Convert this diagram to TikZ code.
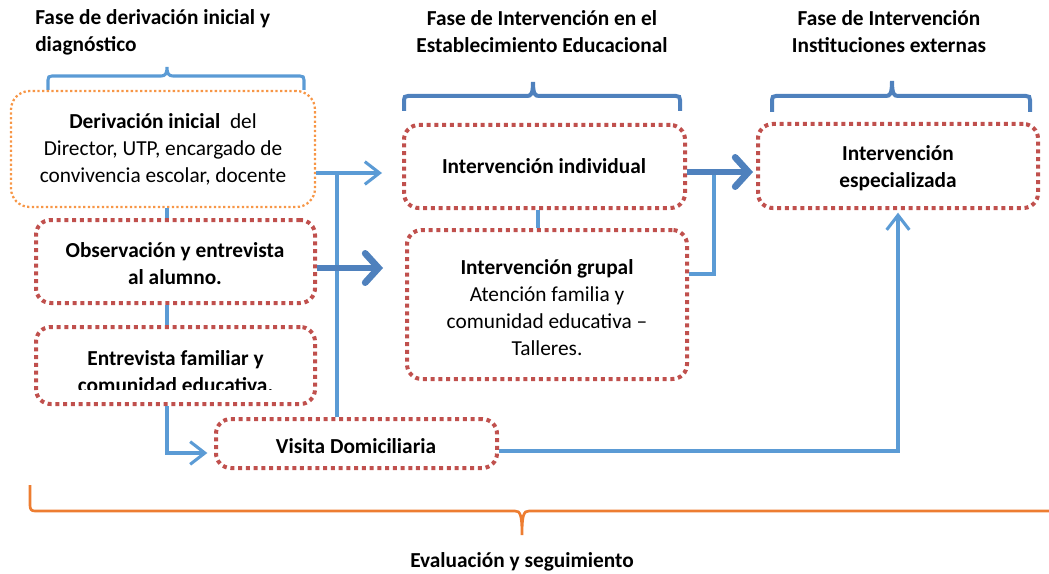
\documentclass[tikz,border=0pt]{standalone}
\usepackage{fontspec}
\setmainfont{Carlito}
\usetikzlibrary{fit,arrows.meta}
\definecolor{rbox}{HTML}{C0504D}
\definecolor{obox}{HTML}{F79646}
\definecolor{lblue}{HTML}{5B9BD5}
\definecolor{dblue}{HTML}{4F81BD}
\definecolor{obrace}{HTML}{ED7D31}
\begin{document}
\begin{tikzpicture}[x=0.75pt,y=-0.75pt,
 font=\fontsize{16}{20.3}\selectfont,
 bfont/.style={font=\fontsize{16}{20.3}\selectfont\bfseries},
 redbox/.style={draw=rbox, line width=3pt, dash pattern=on 3pt off 2.8pt, rounded corners=11pt, inner sep=0pt},
 orangebox/.style={draw=obox, line width=1.7pt, dash pattern=on 1.7pt off 1.8pt, rounded corners=14pt, inner sep=0pt},
 boxtext/.style={align=center, inner sep=0pt},
 conn/.style={draw=lblue, line width=2.3pt},
 connarrow/.style={conn, -{Straight Barb[length=11pt,width=17pt]}},
 thickarrow/.style={draw=dblue, line width=5pt, -{Straight Barb[length=10pt,width=22pt,line cap=round]}},
 bracelight/.style={draw=lblue, line width=2.3pt},
 bracedark/.style={draw=dblue, line width=3pt},
 braceorange/.style={draw=obrace, line width=2pt},
 title/.style={bfont, align=center, inner sep=0pt}]
\useasboundingbox (0,0) rectangle (1049,574);

% titles
\node[title, anchor=west, align=left] (t1) at (35,32) {Fase de derivación inicial y\\diagnóstico};
\node[title] (t2) at (542,32) {Fase de Intervención en el\\Establecimiento Educacional};
\node[title] (t3t) at (889,32) {Fase de Intervención\\Instituciones externas};
\node[title] (tev) at (522,562) {Evaluación y seguimiento};

% braces
\draw[bracelight] (48,90) -- (48,80) .. controls (48,77) and (49,76) .. (52,76) -- (161,76) .. controls (165,76) and (167,74) .. (167,67) .. controls (167,74) and (169,76) .. (173,76) -- (300,76) .. controls (303,76) and (304,77) .. (304,80) -- (304,90);
\draw[bracedark] (404,111) -- (404,100) .. controls (404,97) and (405,96) .. (408,96) -- (527,96) .. controls (531,96) and (533,94) .. (533,82) .. controls (533,94) and (535,96) .. (539,96) -- (676,96) .. controls (679,96) and (680,97) .. (680,100) -- (680,111);
\draw[bracedark] (772,112) -- (772,100) .. controls (772,97) and (773,96) .. (776,96) -- (886,96) .. controls (890,96) and (892,94) .. (892,81) .. controls (892,94) and (894,96) .. (898,96) -- (1026,96) .. controls (1029,96) and (1030,97) .. (1030,100) -- (1030,112);
\draw[braceorange] (30,485) -- (30,505) .. controls (30,509) and (31,511) .. (35,511) -- (515,511) .. controls (520,511) and (522,514) .. (522,535) .. controls (522,514) and (524,511) .. (529,511) -- (1060,511);

% boxes
\node[orangebox, fit={(11,91) (315,207)}] (b1) {};
\node[boxtext] (t1b) at (163,149) {\textbf{Derivación inicial}\ \ del\\Director, UTP, encargado de\\convivencia escolar, docente};
\node[redbox, fit={(36,220) (315,303)}] (b2) {};
\node[boxtext, bfont] (t2b) at (175,263.5) {Observación y entrevista\\al alumno.};
\node[redbox, fit={(36,327) (315,404)}] (b3) {};
\begin{scope}
\clip (36,327) rectangle (315,389);
\node[boxtext, bfont] (t3b) at (175.5,372) {Entrevista familiar y\\comunidad educativa.};
\end{scope}
\node[redbox, fit={(216,419) (497,468)}] (vd) {};
\node[boxtext, bfont] (tvd) at (356,446) {Visita Domiciliaria};
\node[redbox, fit={(404,125) (685,208)}] (ii) {};
\node[boxtext, bfont] (tii) at (544,166) {Intervención individual};
\node[redbox, fit={(407,230) (687,379)}] (ig) {};
\node[boxtext] (tig) at (547,307.5) {\textbf{Intervención grupal}\\Atención familia y\\comunidad educativa –\\Talleres.};
\node[redbox, fit={(758,124) (1038,208)}] (ie) {};
\node[boxtext, bfont] (tie) at (898,168) {Intervención\\especializada};

% connectors
\coordinate (x1) at (167,0);
\draw[conn] (b1.south -| x1) -- (b2.north -| x1);
\draw[conn] (b2.south -| x1) -- (b3.north -| x1);
\coordinate (j1) at (167,453);
\draw[connarrow, shorten >=5pt] (b3.south -| x1) -- (j1) -- (vd.west |- j1);

\coordinate (a1) at (382,173);
\draw[connarrow] (b1.east |- a1) -- (a1);
\coordinate (v1) at (337,173);
\draw[conn] (vd.north -| v1) -- (v1);

\coordinate (a2) at (383,268);
\draw[thickarrow] (b2.east |- a2) -- (a2);

\coordinate (x2) at (538,0);
\draw[conn] (ii.south -| x2) -- (ig.north -| x2);

\coordinate (j3) at (714,274);
\coordinate (j4) at (714,172);
\draw[conn] (ig.east |- j3) -- (j3) -- (j4);

\coordinate (a3) at (753,172);
\draw[thickarrow] (ii.east |- a3) -- (a3);

\coordinate (j5) at (898,451);
\draw[connarrow, shorten >=2pt] (vd.east |- j5) -- (j5) -- (ie.south -| j5);
\end{tikzpicture}
\end{document}
